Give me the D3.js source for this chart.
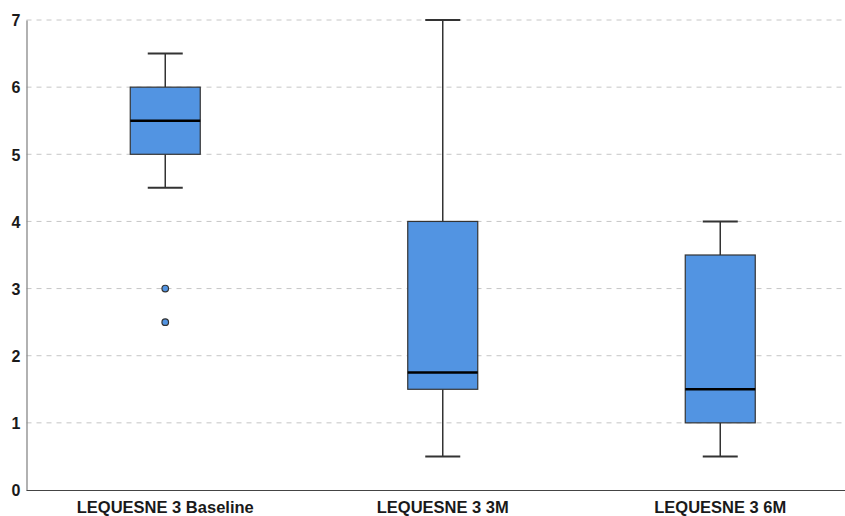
<!DOCTYPE html>
<html><head><meta charset="utf-8">
<script src="https://cdn.jsdelivr.net/npm/d3@7"></script>
<style>body{margin:0;background:#fff}svg{display:block}text{font-family:"Liberation Sans",Arial,sans-serif;font-weight:bold;fill:#1a1a1a}</style>
</head><body>
<svg id="c" width="845" height="516"></svg>
<script>
const categories = ["LEQUESNE 3 Baseline", "LEQUESNE 3 3M", "LEQUESNE 3 6M"];
const whiskerLow = [4.5, 0.5, 0.5];
const q1 = [5, 1.5, 1];
const median = [5.5, 1.75, 1.5];
const q3 = [6, 4, 3.5];
const whiskerHigh = [6.5, 7, 4];
const outliers = [[3, 2.5], [], []];
const yTicks = [0, 1, 2, 3, 4, 5, 6, 7];

(function () {
const svg = d3.select("#c");
const mLeft = 26.5, mRight = 859, mTop = 20, mBottom = 490;
const x = d3.scaleBand().domain(categories).range([mLeft, mRight]);
const y = d3.scaleLinear().domain([0, 7]).range([mBottom, mTop]);
const boxW = 70, capW = 35;

svg.append("g").selectAll("line").data(yTicks.filter(d => d > 0)).join("line")
  .attr("x1", mLeft).attr("x2", 845).attr("y1", d => y(d)).attr("y2", d => y(d))
  .attr("stroke", "#c6c6c6").attr("stroke-width", 1).attr("stroke-dasharray", "5,5");

const ya = svg.append("g").attr("transform", `translate(${mLeft},0)`)
  .call(d3.axisLeft(y).tickValues(yTicks).tickSize(0).tickPadding(6).tickFormat(d3.format("d")));
ya.select(".domain").attr("stroke", "#888").attr("stroke-width", 1.3);
ya.selectAll("text").style("font-size", "16px").attr("dy", "0.36em");

svg.append("line").attr("x1", mLeft).attr("x2", 845).attr("y1", mBottom + 0.5).attr("y2", mBottom + 0.5)
  .attr("stroke", "#444").attr("stroke-width", 1.2);
svg.append("g").selectAll("text").data(categories).join("text")
  .attr("x", d => x(d) + x.bandwidth() / 2).attr("y", 512.5)
  .attr("text-anchor", "middle").style("font-size", "16.5px").text(d => d);

const g = svg.append("g");
categories.forEach((c, i) => {
  const cx = x(c) + x.bandwidth() / 2;
  const gg = g.append("g");
  gg.append("line").attr("x1", cx).attr("x2", cx).attr("y1", y(q3[i])).attr("y2", y(whiskerHigh[i]))
    .attr("stroke", "#333").attr("stroke-width", 1.5);
  gg.append("line").attr("x1", cx).attr("x2", cx).attr("y1", y(q1[i])).attr("y2", y(whiskerLow[i]))
    .attr("stroke", "#333").attr("stroke-width", 1.5);
  [whiskerHigh[i], whiskerLow[i]].forEach(v => {
    gg.append("line").attr("x1", cx - capW / 2).attr("x2", cx + capW / 2).attr("y1", y(v)).attr("y2", y(v))
      .attr("stroke", "#333").attr("stroke-width", 2);
  });
  gg.append("rect").attr("x", cx - boxW / 2).attr("width", boxW)
    .attr("y", y(q3[i])).attr("height", y(q1[i]) - y(q3[i]))
    .attr("fill", "#5294e2").attr("stroke", "#333").attr("stroke-width", 1.2);
  gg.append("line").attr("x1", cx - boxW / 2).attr("x2", cx + boxW / 2).attr("y1", y(median[i])).attr("y2", y(median[i]))
    .attr("stroke", "#000").attr("stroke-width", 2.5);
  outliers[i].forEach(v => {
    gg.append("circle").attr("cx", cx).attr("cy", y(v)).attr("r", 3.3)
      .attr("fill", "#5294e2").attr("stroke", "#333").attr("stroke-width", 1.2);
  });
});
})();
</script>
</body></html>
